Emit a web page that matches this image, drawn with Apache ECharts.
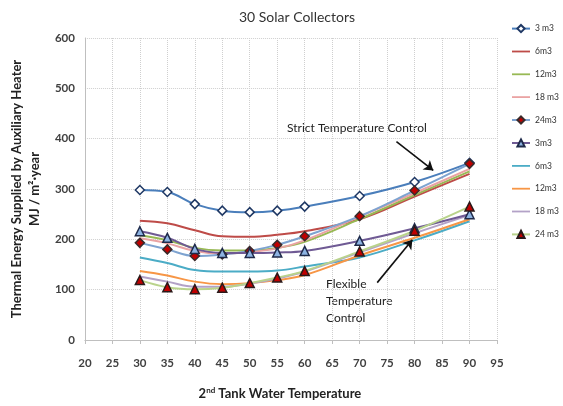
<!DOCTYPE html>
<html>
<head>
<meta charset="utf-8">
<script src="https://cdn.jsdelivr.net/npm/echarts@6/dist/echarts.min.js"></script>
<style>
  html, body { margin: 0; padding: 0; background: #fff; }
  #chart { width: 563px; height: 406px; }
</style>
</head>
<body>
<div id="chart"></div>
<script>
// Tank water temperatures (°C)
const temps = [30, 35, 40, 45, 50, 55, 60, 70, 80, 90];

// Strict temperature control, per 2nd tank volume
const strict3  = [298, 294, 270, 257, 254, 257, 265, 286, 314, 352];
const strict6  = [237, 232, 218, 206, 205, 209, 216, 240, 285, 330];
const strict12 = [208, 198, 183, 178, 178, 183, 195, 240, 288, 335];
const strict18 = [202, 192, 177, 172, 175, 182, 198, 245, 292, 340];
const strict24 = [193, 180, 167, 170, 177, 189, 206, 246, 297, 350];

// Flexible temperature control, per 2nd tank volume
const flex3  = [216, 203, 181, 173, 173, 174, 177, 197, 222, 250];
const flex6  = [164, 153, 139, 136, 136, 138, 146, 164, 198, 236];
const flex12 = [137, 128, 116, 111, 113, 119, 129, 168, 203, 240];
const flex18 = [126, 116, 106, 106, 112, 122, 136, 174, 212, 248];
const flex24 = [119, 105, 101, 104, 113, 124, 137, 176, 217, 265];

// Legend labels (trailing spaces keep the second group's names unique)
const seriesNames = ['3 m3', '6m3', '12m3', '18 m3', '24m3',
                     '3m3', '6m3 ', '12m3 ', '18 m3 ', '24 m3'];

const FONT = 'Lato';
// plain short bar used as the legend key for series drawn without markers
const LINE_ICON = 'path://M0,0H20V2H0Z';

function pairs(values) {
  return temps.map((t, i) => [t, values[i]]);
}

function lineSeries(name, values, color, marker) {
  const s = {
    name: name,
    type: 'line',
    data: pairs(values),
    smooth: 0.4,
    lineStyle: { color: color, width: 2 },
    itemStyle: { color: color },
    symbol: 'none',
    z: marker ? 3 : 2
  };
  if (marker) {
    s.symbol = marker.symbol;
    s.symbolSize = marker.size;
    s.showSymbol = true;
    s.itemStyle = { color: marker.fill, borderColor: marker.border, borderWidth: 1.5 };
  }
  return s;
}

const series = [
  lineSeries(seriesNames[0], strict3, '#4a7ebb', { symbol: 'diamond', size: 9, fill: '#ffffff', border: '#1f3864' }),
  lineSeries(seriesNames[1], strict6, '#be4b48'),
  lineSeries(seriesNames[2], strict12, '#98b954'),
  lineSeries(seriesNames[3], strict18, '#eaa3a3'),
  lineSeries(seriesNames[4], strict24, '#7ea3d0', { symbol: 'diamond', size: 9, fill: '#c00000', border: '#3a2a2a' }),
  lineSeries(seriesNames[5], flex3, '#6f5a94', { symbol: 'triangle', size: 9, fill: '#8db3e2', border: '#1f2a4a' }),
  lineSeries(seriesNames[6], flex6, '#4bacc6'),
  lineSeries(seriesNames[7], flex12, '#f79646'),
  lineSeries(seriesNames[8], flex18, '#b3a2c7'),
  lineSeries(seriesNames[9], flex24, '#b9d38c', { symbol: 'triangle', size: 9, fill: '#c00000', border: '#2a1a1a' })
];

// arrows pointing at the two groups of curves
series[9].markLine = {
  silent: true,
  symbol: ['none', 'arrow'],
  symbolSize: 9,
  label: { show: false },
  lineStyle: { color: '#111', width: 1.6, type: 'solid' },
  data: [
    [{ coord: [76.7, 394] }, { coord: [83.4, 337] }],
    [{ coord: [73.2, 114] }, { coord: [79.6, 199] }]
  ]
};

const legendData = series.map(s => (
  s.symbol === 'none' ? { name: s.name, icon: LINE_ICON } : { name: s.name }
));

const chart = echarts.init(document.getElementById('chart'), null, { renderer: 'canvas' });

chart.setOption({
  backgroundColor: '#ffffff',
  animation: false,
  textStyle: { fontFamily: FONT },
  title: {
    text: '30 Solar Collectors',
    left: 292,
    textAlign: 'center',
    top: 5,
    textStyle: { fontFamily: FONT, fontSize: 14, fontWeight: 'normal', color: '#333' }
  },
  grid: { left: 80, right: 66, top: 38, bottom: 66, containLabel: false },
  legend: {
    orient: 'vertical',
    left: 511,
    top: 24,
    padding: 0,
    itemWidth: 18,
    itemHeight: 9,
    itemGap: 13.8,
    data: legendData,
    textStyle: { fontFamily: FONT, fontSize: 8.5, color: '#333' }
  },
  xAxis: {
    type: 'value',
    min: 20,
    max: 95,
    interval: 5,
    name: '2{sup|nd} Tank Water Temperature',
    nameLocation: 'middle',
    nameGap: 46,
    nameTextStyle: {
      fontFamily: FONT, fontSize: 13, fontWeight: 'bold', color: '#222',
      padding: [0, 22, 0, 0],
      rich: {
        sup: { fontFamily: FONT, fontSize: 8, fontWeight: 'bold', color: '#222', verticalAlign: 'top', padding: [0, 0, 7, 0] }
      }
    },
    axisLine: { show: true, lineStyle: { color: '#bfbfbf', width: 1 } },
    axisTick: { show: true, length: 4, lineStyle: { color: '#bfbfbf' } },
    axisLabel: { fontFamily: FONT, fontSize: 11.5, fontWeight: 'bold', color: '#404040', margin: 17 },
    splitLine: { show: true, lineStyle: { color: '#cfcfcf', type: 'dotted', width: 1 } }
  },
  yAxis: {
    type: 'value',
    min: 0,
    max: 600,
    interval: 100,
    name: 'Thermal Energy Supplied by Auxiliary Heater\nMJ / m²·year',
    nameLocation: 'middle',
    nameRotate: 90,
    nameGap: 35,
    nameTextStyle: { fontFamily: FONT, fontSize: 13, fontWeight: 'bold', color: '#222', lineHeight: 18 },
    axisLine: { show: true, lineStyle: { color: '#bfbfbf', width: 1 } },
    axisTick: { show: false },
    axisLabel: { fontFamily: FONT, fontSize: 11.5, fontWeight: 'bold', color: '#404040', margin: 10 },
    splitLine: { show: true, lineStyle: { color: '#cfcfcf', type: 'dotted', width: 1 } }
  },
  series: series,
  graphic: [
    {
      type: 'text',
      left: 287,
      top: 122,
      style: { text: 'Strict Temperature Control', fill: '#222', font: '12px Lato' }
    },
    {
      type: 'text',
      left: 326,
      top: 276,
      style: { text: 'Flexible\nTemperature\nControl', fill: '#222', font: '12px Lato', lineHeight: 17 }
    }
  ]
});
</script>
</body>
</html>
